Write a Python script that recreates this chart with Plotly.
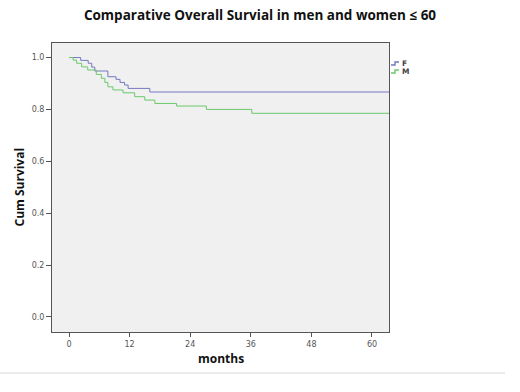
import plotly.graph_objects as go

# Kaplan-Meier estimates
f_time = [0, 2.3, 3.8, 4.5, 5.1, 7.7, 9.3, 10.1, 11.0, 11.7, 16.0, 64]
f_surv = [1.0, 0.989, 0.978, 0.963, 0.948, 0.926, 0.916, 0.904, 0.894, 0.881, 0.867, 0.867]

m_time = [0, 0.8, 1.5, 2.5, 3.7, 5.4, 6.4, 7.1, 7.7, 8.7, 10.7, 13.0, 15.0, 17.0, 21.3, 27.2, 36.2, 64]
m_surv = [1.0, 0.990, 0.978, 0.964, 0.952, 0.935, 0.920, 0.904, 0.887, 0.875, 0.864,
          0.849, 0.836, 0.823, 0.813, 0.800, 0.785, 0.785]

x_ticks = [0, 12, 24, 36, 48, 60]
y_ticks = [0.0, 0.2, 0.4, 0.6, 0.8, 1.0]
groups = ["F", "M"]
colors = {"F": "#7478c0", "M": "#6cc86c"}

W, H = 520, 392
L, R, T, B = 52, 389, 43, 332


def px(x):
    return (x - L) / (R - L)


def py(y):
    return (B - y) / (B - T)


fig = go.Figure()
fig.add_trace(go.Scatter(x=f_time, y=f_surv, mode="lines", line_shape="hv",
                         line=dict(color=colors["F"], width=1), name="F", showlegend=False))
fig.add_trace(go.Scatter(x=m_time, y=m_surv, mode="lines", line_shape="hv",
                         line=dict(color=colors["M"], width=1), name="M", showlegend=False))

shapes = []
annotations = []
# custom legend with step symbols
for i, g in enumerate(groups):
    y0 = 65 + 8 * i
    path = "M {} {} L {} {} L {} {} L {} {}".format(
        px(391), py(y0), px(395), py(y0), px(395), py(y0 - 3), px(399), py(y0 - 3))
    shapes.append(dict(type="path", path=path, xref="paper", yref="paper",
                       line=dict(color=colors[g], width=1.4)))
    annotations.append(dict(text="<b>" + g + "</b>", x=px(399.5), y=py(y0 - 1.5),
                            xref="paper", yref="paper",
                            xanchor="left", yanchor="middle", showarrow=False,
                            font=dict(family="DejaVu Sans", size=7.5, color="#444")))

# faint frame line at the bottom of the image
shapes.append(dict(type="line", xref="paper", yref="paper",
                   x0=px(0), x1=px(505), y0=py(373), y1=py(373),
                   line=dict(color="#e4e4e4", width=1.5)))

annotations.append(dict(text="<b>months</b>", x=0.5, y=py(358), xref="paper", yref="paper",
                        xanchor="center", yanchor="middle", showarrow=False,
                        font=dict(family="Open Sans", size=12, color="#111")))
annotations.append(dict(text="<b>Cum Survival</b>", x=px(19), y=0.5, xref="paper", yref="paper",
                        xanchor="center", yanchor="middle", showarrow=False, textangle=-90,
                        font=dict(family="Open Sans", size=12, color="#111")))

fig.update_layout(
    width=W, height=H,
    margin=dict(l=L, r=W - R, t=T, b=H - B),
    paper_bgcolor="white",
    plot_bgcolor="#f0f0f0",
    title=dict(text="<b>Comparative Overall Survial in men and women ≤ 60</b>",
               x=0.5, xref="container", xanchor="center",
               y=1 - 15 / H, yref="container", yanchor="middle",
               font=dict(family="Open Sans", size=13.5, color="#111")),
    shapes=shapes,
    annotations=annotations,
    xaxis=dict(range=[-3.37, 63.37], tickvals=x_ticks, ticktext=[str(v) for v in x_ticks],
               showgrid=False, zeroline=False, showline=True, mirror=True,
               linecolor="#555", linewidth=1, ticks="outside", ticklen=4, tickcolor="#555",
               tickfont=dict(family="DejaVu Sans", size=8, color="#555")),
    yaxis=dict(range=[-0.058, 1.056], tickvals=y_ticks, ticktext=["%.1f" % v for v in y_ticks],
               showgrid=False, zeroline=False, showline=True, mirror=True,
               linecolor="#555", linewidth=1, ticks="outside", ticklen=5, tickcolor="#555",
               tickfont=dict(family="DejaVu Sans", size=8, color="#555")),
)

fig.write_html("out.html", config={"displayModeBar": False},
               post_script="document.body.style.margin='0';document.body.style.overflow='hidden';")
